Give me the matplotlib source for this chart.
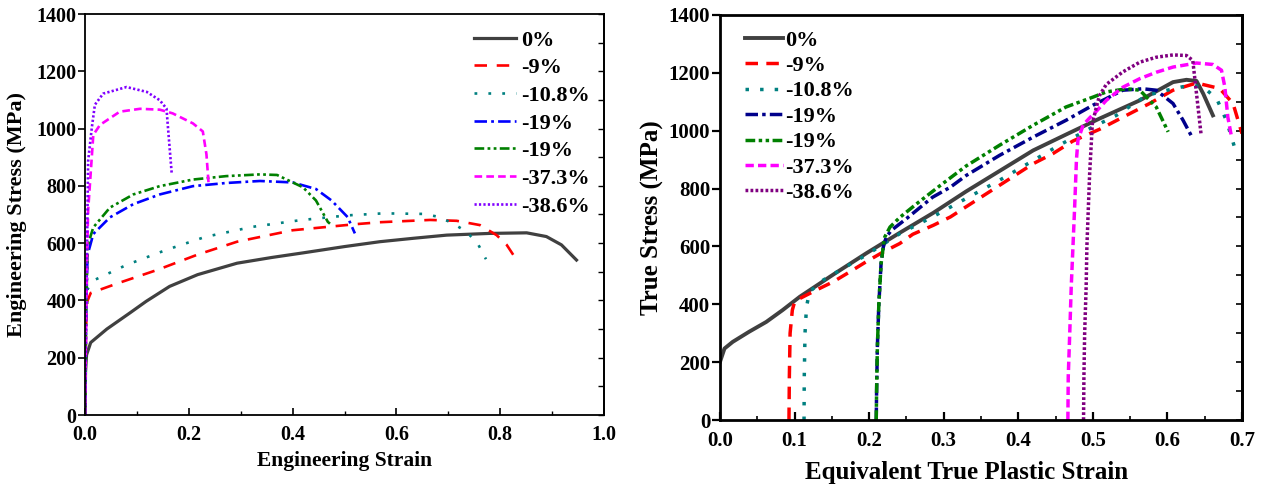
import matplotlib
matplotlib.use("Agg")
import matplotlib.pyplot as plt
from matplotlib.ticker import MultipleLocator

plt.rcParams['font.family'] = ['Liberation Serif', 'DejaVu Serif']
plt.rcParams['font.weight'] = 'bold'
plt.rcParams['lines.scale_dashes'] = False

labels = ["0%", "-9%", "-10.8%", "-19%", "-19%", "-37.3%", "-38.6%"]

# ---------------- Engineering curves (left) ----------------
eng_x_0 = [0, 0.001, 0.003, 0.011, 0.042, 0.087, 0.118, 0.163, 0.217, 0.293, 0.36, 0.42, 0.5, 0.568, 0.633, 0.697, 0.78, 0.851, 0.889, 0.918, 0.947]
eng_y_0 = [0, 150, 210, 253, 300, 357, 397, 449, 490, 530, 550, 566, 588, 605, 617, 628, 634, 636, 623, 594, 541]

eng_x_9 = [0, 0.002, 0.004, 0.011, 0.065, 0.14, 0.217, 0.293, 0.4, 0.52, 0.568, 0.665, 0.716, 0.761, 0.793, 0.8125, 0.835]
eng_y_9 = [0, 300, 395, 426, 461, 507, 560, 605, 645, 666, 673, 681, 678, 663, 628, 594, 532]

eng_x_108 = [0, 0.002, 0.005, 0.019, 0.08, 0.156, 0.232, 0.323, 0.414, 0.506, 0.575, 0.652, 0.681, 0.7065, 0.7354, 0.758, 0.7726]
eng_y_108 = [0, 300, 440, 472, 524, 576, 622, 657, 680, 697, 704, 702, 692, 671, 640, 594, 544]

eng_x_19a = [0, 0.002, 0.005, 0.01, 0.016, 0.048, 0.093, 0.144, 0.208, 0.272, 0.337, 0.4, 0.445, 0.475, 0.506, 0.52]
eng_y_19a = [0, 350, 560, 592, 632, 690, 736, 770, 799, 810, 817, 812, 789, 749, 691, 634]

eng_x_19b = [0, 0.002, 0.005, 0.01, 0.016, 0.048, 0.093, 0.144, 0.208, 0.272, 0.337, 0.37, 0.42, 0.445, 0.468, 0.472]
eng_y_19b = [0, 350, 580, 620, 655, 724, 770, 799, 822, 834, 840, 838, 795, 749, 674, 668]

eng_x_373 = [0, 0.002, 0.004, 0.006, 0.016, 0.029, 0.067, 0.106, 0.144, 0.169, 0.208, 0.227, 0.234, 0.238]
eng_y_373 = [0, 300, 550, 713, 978, 1013, 1059, 1069, 1066, 1053, 1018, 990, 910, 811]

eng_x_386 = [0, 0.002, 0.004, 0.006, 0.013, 0.019, 0.035, 0.08, 0.119, 0.144, 0.157, 0.16, 0.167]
eng_y_386 = [0, 300, 600, 886, 1001, 1083, 1122, 1145, 1128, 1099, 1070, 1001, 845]

# ---------------- True stress curves (right) ----------------
tr_x_0 = [0, 0.006, 0.017, 0.039, 0.062, 0.084, 0.107, 0.152, 0.196, 0.241, 0.286, 0.33, 0.375, 0.42, 0.465, 0.509, 0.563, 0.6075, 0.6255, 0.639, 0.648, 0.661]
tr_y_0 = [201, 247, 270, 305, 339, 380, 426, 503, 576, 647, 716, 790, 861, 932, 988, 1042, 1105, 1168, 1176, 1172, 1128, 1053]

tr_x_9 = [0.0925, 0.093, 0.094, 0.097, 0.1, 0.107, 0.129, 0.152, 0.174, 0.196, 0.219, 0.241, 0.2585, 0.286, 0.309, 0.33, 0.42, 0.4465, 0.473, 0.509, 0.545, 0.576, 0.6075, 0.639, 0.67, 0.688, 0.7]
tr_y_9 = [0, 150, 300, 380, 408, 420, 449, 478, 512, 547, 581, 610, 642, 673, 702, 737, 886, 921, 964, 1005, 1053, 1094, 1140, 1165, 1146, 1094, 990]

tr_x_108 = [0.1127, 0.113, 0.114, 0.116, 0.12, 0.138, 0.161, 0.196, 0.241, 0.285, 0.309, 0.375, 0.455, 0.4957, 0.5315, 0.572, 0.6075, 0.63, 0.648, 0.666, 0.679, 0.6926]
tr_y_108 = [0, 150, 300, 391, 443, 483, 518, 570, 644, 702, 736, 829, 950, 1007, 1053, 1122, 1145, 1157, 1151, 1111, 1036, 921]

tr_x_19a = [0.2095, 0.21, 0.211, 0.213, 0.216, 0.219, 0.223, 0.23, 0.25, 0.285, 0.309, 0.33, 0.375, 0.42, 0.464, 0.5, 0.518, 0.54, 0.567, 0.585, 0.6075, 0.621, 0.634]
tr_y_19a = [0, 100, 250, 400, 541, 598, 633, 656, 696, 770, 805, 845, 915, 978, 1036, 1088, 1111, 1140, 1145, 1140, 1094, 1036, 973]

tr_x_19b = [0.2095, 0.21, 0.211, 0.213, 0.216, 0.219, 0.221, 0.228, 0.241, 0.264, 0.295, 0.33, 0.375, 0.42, 0.464, 0.5, 0.518, 0.545, 0.563, 0.572, 0.585, 0.601]
tr_y_19b = [0, 100, 250, 400, 540, 600, 633, 667, 700, 748, 810, 878, 950, 1019, 1082, 1116, 1134, 1145, 1140, 1116, 1082, 996]

tr_x_373 = [0.4665, 0.467, 0.469, 0.471, 0.4756, 0.478, 0.48, 0.487, 0.496, 0.505, 0.518, 0.54, 0.563, 0.585, 0.6075, 0.639, 0.661, 0.6725, 0.677, 0.681, 0.686]
tr_y_373 = [0, 150, 300, 460, 737, 900, 967, 1020, 1045, 1068, 1105, 1150, 1180, 1202, 1220, 1234, 1229, 1209, 1151, 1047, 978]

tr_x_386 = [0.4875, 0.488, 0.489, 0.491, 0.492, 0.4957, 0.4993, 0.5047, 0.509, 0.518, 0.54, 0.563, 0.585, 0.6075, 0.6255, 0.634, 0.637, 0.641, 0.645]
tr_y_386 = [0, 150, 300, 460, 600, 852, 1024, 1082, 1122, 1160, 1203, 1237, 1254, 1262, 1260, 1243, 1174, 1082, 990]

eng_series = [(eng_x_0, eng_y_0), (eng_x_9, eng_y_9), (eng_x_108, eng_y_108), (eng_x_19a, eng_y_19a),
              (eng_x_19b, eng_y_19b), (eng_x_373, eng_y_373), (eng_x_386, eng_y_386)]
tr_series = [(tr_x_0, tr_y_0), (tr_x_9, tr_y_9), (tr_x_108, tr_y_108), (tr_x_19a, tr_y_19a),
             (tr_x_19b, tr_y_19b), (tr_x_373, tr_y_373), (tr_x_386, tr_y_386)]

left_colors = ['#404040', '#ff0000', '#008080', '#0000ff', '#008000', '#ff00ff', '#8000ff']
right_colors = ['#404040', '#ff0000', '#008080', '#00008b', '#008000', '#ff00ff', '#800080']

left_styles = ['-', (0, (9, 7)), (0, (2.0, 8)), (0, (9, 3, 2.0, 3)), (0, (7, 2.4, 2.0, 2.4, 2.0, 2.4)),
               (0, (5.5, 3)), (0, (1.6, 1.6))]
right_styles = ['-', (0, (9, 6)), (0, (2.5, 8)), (0, (9, 3, 2.5, 3)), (0, (7, 2.5, 2.5, 2.5, 2.5, 2.5)),
                (0, (6, 3)), (0, (2.0, 1.6))]

fig = plt.figure(figsize=(12.61, 4.90), dpi=100)

# ---------- left axes ----------
axL = fig.add_axes([85/1261, 1-415/490, (604-85)/1261, (415-14)/490])
for (x, y), c, ls, lab, i in zip(eng_series, left_colors, left_styles, labels, range(7)):
    axL.plot(x, y, color=c, linestyle=ls, lw=2.3 if i == 0 else 1.9, label=lab)
axL.set_xlim(0, 1.0)
axL.set_ylim(0, 1400)
axL.xaxis.set_major_locator(MultipleLocator(0.2))
axL.xaxis.set_minor_locator(MultipleLocator(0.1))
axL.yaxis.set_major_locator(MultipleLocator(200))
axL.xaxis.set_major_formatter(plt.FuncFormatter(lambda v, p: f"{v:.1f}"))
axL.tick_params(axis='x', which='major', direction='in', length=5, width=1.2, labelsize=14.5, pad=7)
axL.tick_params(axis='x', which='minor', direction='in', length=3, width=1.0)
axL.tick_params(axis='y', which='major', direction='out', length=5, width=1.2, labelsize=14.5, pad=1)
for sp in axL.spines.values():
    sp.set_linewidth(1.3)
secL = axL.secondary_yaxis('right')
secL.set_yticks(list(range(0, 1401, 100)))
secL.tick_params(direction='in', length=4, width=1.0, labelright=False)
secL.spines['right'].set_linewidth(1.3)
axL.set_xlabel("Engineering Strain", fontsize=15.5, fontweight='bold')
axL.set_ylabel("Engineering Stress (MPa)", fontsize=16, fontweight='bold')
axL.xaxis.set_label_coords(0.5, -0.09)
axL.yaxis.set_label_coords(-0.112, 0.5)
for t in axL.get_xticklabels() + axL.get_yticklabels():
    t.set_fontweight('bold')
legL = axL.legend(loc='upper left', bbox_to_anchor=(474/1261, 1-30/490), bbox_transform=fig.transFigure,
                  frameon=False, fontsize=16, handlelength=1.9, handletextpad=0.2, labelspacing=0.32,
                  borderpad=0, borderaxespad=0)
for t in legL.get_texts():
    t.set_fontweight('bold')

# ---------- right axes ----------
axR = fig.add_axes([720/1261, 1-420/490, (1242-720)/1261, (420-15)/490])
for (x, y), c, ls, lab, i in zip(tr_series, right_colors, right_styles, labels, range(7)):
    axR.plot(x, y, color=c, linestyle=ls, lw=2.8 if i == 0 else 2.5, label=lab, clip_on=True)
axR.set_xlim(0, 0.7)
axR.set_ylim(0, 1400)
axR.xaxis.set_major_locator(MultipleLocator(0.1))
axR.xaxis.set_minor_locator(MultipleLocator(0.05))
axR.yaxis.set_major_locator(MultipleLocator(200))
axR.xaxis.set_major_formatter(plt.FuncFormatter(lambda v, p: f"{v:.1f}"))
axR.tick_params(axis='x', which='major', direction='in', length=6, width=1.6, labelsize=15, pad=8)
axR.tick_params(axis='x', which='minor', direction='in', length=3, width=1.2)
axR.tick_params(axis='y', which='major', direction='out', length=6, width=1.6, labelsize=15, pad=1)
for sp in axR.spines.values():
    sp.set_linewidth(2.0)
secR = axR.secondary_yaxis('right')
secR.set_yticks(list(range(0, 1401, 100)))
secR.tick_params(direction='in', length=4, width=1.2, labelright=False)
secR.spines['right'].set_linewidth(2.0)
axR.set_xlabel("Equivalent True Plastic Strain", fontsize=18, fontweight='bold')
axR.set_ylabel("True Stress (MPa)", fontsize=18, fontweight='bold')
axR.xaxis.set_label_coords(0.473, -0.1)
axR.yaxis.set_label_coords(-0.108, 0.5)
for t in axR.get_xticklabels() + axR.get_yticklabels():
    t.set_fontweight('bold')
legR = axR.legend(loc='upper left', bbox_to_anchor=(745/1261, 1-30/490), bbox_transform=fig.transFigure,
                  frameon=False, fontsize=16, handlelength=1.7, handletextpad=0.1, labelspacing=0.22,
                  borderpad=0, borderaxespad=0)
for t in legR.get_texts():
    t.set_fontweight('bold')

fig.savefig("out.png", dpi=100)
